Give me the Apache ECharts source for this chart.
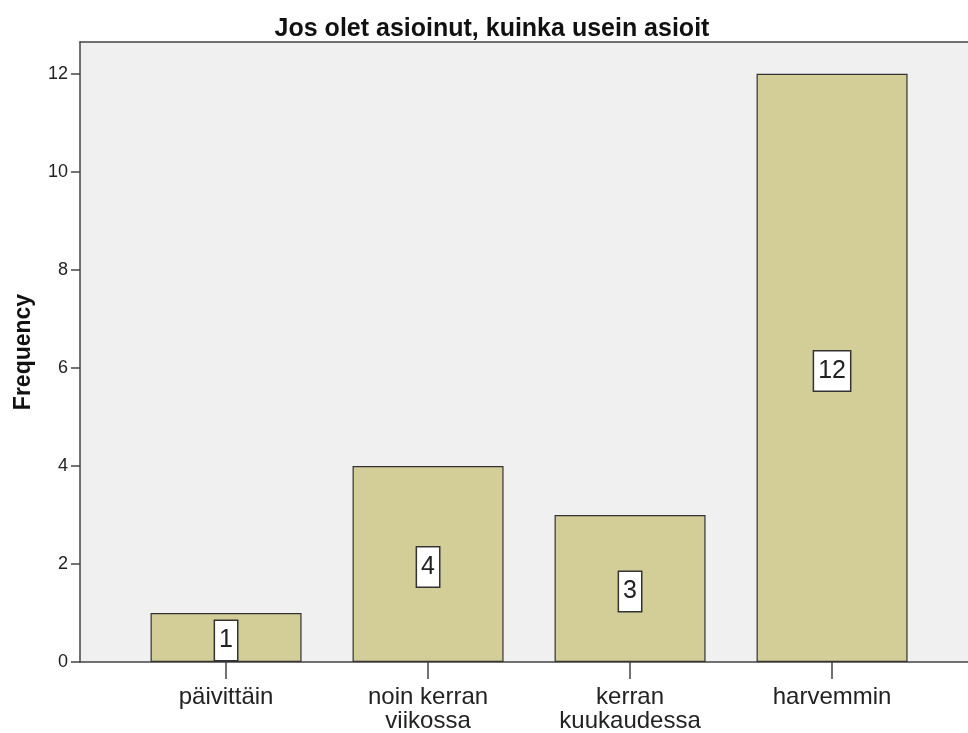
<!DOCTYPE html>
<html>
<head>
<meta charset="utf-8">
<script src="https://cdn.jsdelivr.net/npm/echarts@6/dist/echarts.min.js"></script>
<style>
  html, body { margin: 0; padding: 0; background: #fff; }
  #chart { width: 968px; height: 733px; }
</style>
</head>
<body>
<div id="chart"></div>
<script>
// Survey answers: how often respondents use the service
const categories = ['päivittäin', 'noin kerran\nviikossa', 'kerran\nkuukaudessa', 'harvemmin'];
const frequencies = [1, 4, 3, 12];
const yTicks = [0, 2, 4, 6, 8, 10, 12];

const chart = echarts.init(document.getElementById('chart'));
const font = '"Liberation Sans", Arial, sans-serif';
const idx = categories.map((c, i) => i);
const axisColor = '#444';
const xRange = { min: -0.723, max: 3.673 };

chart.setOption({
  animation: false,
  title: {
    text: 'Jos olet asioinut, kuinka usein asioit',
    left: 487, textAlign: 'center',
    top: 12,
    textStyle: { fontFamily: font, fontSize: 25, fontWeight: 'bold', color: '#111' }
  },
  grid: {
    left: 80, right: 0, top: 42, bottom: 71,
    outerBoundsMode: 'none',
    containLabel: false,
    show: true, backgroundColor: '#f0f0f0', borderWidth: 0
  },
  xAxis: [{
    type: 'value',
    min: xRange.min, max: xRange.max,
    splitLine: { show: false },
    axisLine: { show: true, onZero: false, lineStyle: { color: axisColor, width: 1.5 } },
    axisTick: { show: true, length: 17, customValues: idx, lineStyle: { color: axisColor, width: 1.5 } },
    axisLabel: {
      customValues: idx,
      formatter: v => categories[Math.round(v)] || '',
      fontFamily: font, fontSize: 24, color: '#222', lineHeight: 24, margin: 23
    }
  }, {
    // upper frame line of the plot area
    type: 'value', position: 'top',
    min: xRange.min, max: xRange.max,
    splitLine: { show: false },
    axisLine: { show: true, onZero: false, lineStyle: { color: axisColor, width: 1.5 } },
    axisTick: { show: false },
    axisLabel: { show: false }
  }],
  yAxis: {
    type: 'value',
    min: 0, max: 12.65,
    name: 'Frequency',
    nameLocation: 'middle',
    nameGap: 45,
    nameRotate: 90,
    nameTextStyle: { fontFamily: font, fontSize: 23, fontWeight: 'bold', color: '#111' },
    splitLine: { show: false },
    axisLine: { show: true, onZero: false, lineStyle: { color: axisColor, width: 1.5 } },
    axisTick: { show: true, length: 9, customValues: yTicks, lineStyle: { color: axisColor, width: 1.5 } },
    axisLabel: { customValues: yTicks, fontFamily: font, fontSize: 18, color: '#222', margin: 12 }
  },
  series: [{
    type: 'bar',
    xAxisIndex: 0,
    data: frequencies.map((v, i) => [i, v]),
    barWidth: 151,
    itemStyle: { color: '#d3ce98', borderColor: '#333', borderWidth: 1.2 },
    label: {
      show: true,
      position: 'inside',
      offset: [0, 3],
      formatter: p => String(p.value[1]),
      fontFamily: font, fontSize: 25, color: '#222', lineHeight: 25,
      backgroundColor: '#fff', borderColor: '#333', borderWidth: 1.5,
      padding: [8, 4, 6, 4]
    }
  }]
});
</script>
</body>
</html>
